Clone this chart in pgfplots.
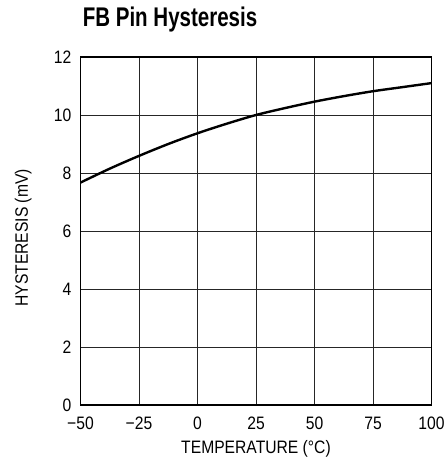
\documentclass[border=0pt]{standalone}
\usepackage{pgfplots}
\pgfplotsset{compat=1.18}
\usepackage{fontspec}
\setmainfont{Liberation Sans}[FakeStretch=0.87]
\newfontfamily\titlefont{Liberation Sans}[FakeStretch=0.76]
\begin{document}
\begin{tikzpicture}
\begin{axis}[
    scale only axis,
    width=351pt, height=348pt,
    xmin=-50, xmax=100,
    ymin=0, ymax=12,
    xtick={-50,-25,0,25,50,75,100},
    xticklabels={−50,−25,0,25,50,75,100},
    ytick={0,2,...,12},
    grid=major,
    major grid style={black!85, line width=0.75pt},
    axis line style={black, line width=1.4pt},
    tick style={draw=none},
    /pgf/number format/assume math mode=true,
    ticklabel style={font=\fontsize{18}{20}\selectfont, inner sep=0pt},
    xticklabel style={anchor=north, yshift=-12pt},
    yticklabel style={anchor=east, xshift=-9pt},
    xlabel={TEMPERATURE (°C)},
    ylabel={HYSTERESIS (mV)},
    label style={font=\fontsize{18}{20}\selectfont, inner sep=0pt},
    xlabel style={at={(axis description cs:0.5,-0.138)}, anchor=base},
    ylabel style={at={(axis description cs:-0.1496,0.48)}, anchor=base},
    title={\titlefont\bfseries FB Pin Hysteresis},
    title style={font=\fontsize{27}{30}\selectfont, inner sep=0pt,
        at={(axis description cs:0.006,1.069)}, anchor=base west},
]
\addplot[black, line width=2.4pt, smooth] coordinates {
(-50,7.67) (-37.5,8.15) (-25,8.59) (-12.5,9.0) (0,9.37) (12.5,9.7) (25,10.0)
(37.5,10.24) (50,10.46) (62.5,10.65) (75,10.82) (87.5,10.96) (100,11.1)};
\end{axis}
\pgfresetboundingbox
\path (current axis.south west) ++(-80.5pt,-52pt) rectangle ++(446pt,457pt);
\end{tikzpicture}
\end{document}
